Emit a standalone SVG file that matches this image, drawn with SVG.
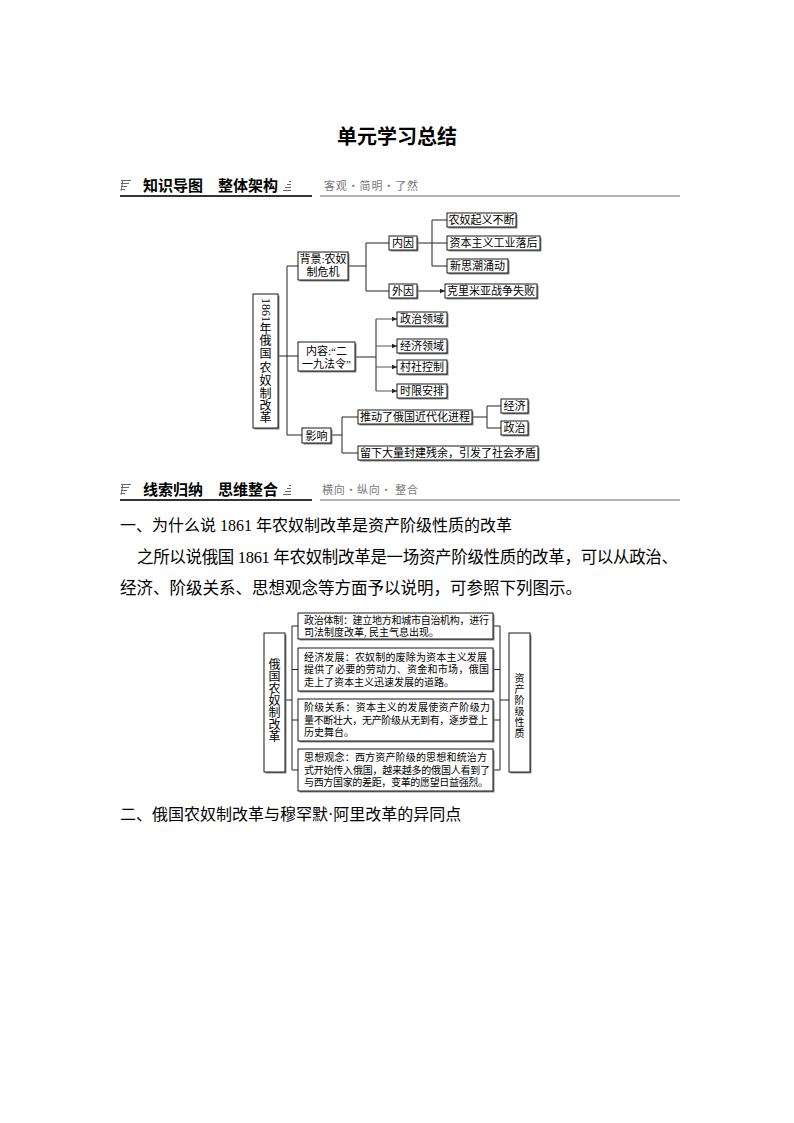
<svg xmlns="http://www.w3.org/2000/svg" width="794" height="1123" viewBox="0 0 794 1123">
<style>
.bg{fill:#fff}
.t{font-family:"Liberation Serif","Noto Sans CJK SC",serif;fill:#000}
.h{font-family:"Noto Sans CJK SC",sans-serif;font-weight:bold;fill:#000}
.g{font-family:"Noto Sans CJK SC",sans-serif;fill:#777;font-size:11px}
.box{fill:#fff;stroke:#000;stroke-width:0.9}
.sh{fill:#8a8a8a}
.c{fill:none;stroke:#222;stroke-width:1}
.cg{fill:none;stroke:#555;stroke-width:1}
.n{font-size:11px;text-anchor:middle}
.s{font-size:10px}
.ico{stroke:#666;stroke-width:1}
</style>
<defs>
<marker id="ar" markerUnits="userSpaceOnUse" markerWidth="6" markerHeight="6" refX="5" refY="3" orient="auto">
<path d="M0,0.8 L5,3 L0,5.2 Z" fill="#222"/>
</marker>
</defs>
<rect class="bg" x="0" y="0" width="794" height="1123"/>

<!-- Title -->
<text class="h" x="397" y="144" font-size="20" text-anchor="middle">单元学习总结</text>

<!-- Header 1 -->
<g id="header1">
<line class="ico" x1="121" y1="180.5" x2="131" y2="180.5"/>
<line class="ico" x1="121" y1="183.5" x2="129" y2="183.5"/>
<line class="ico" x1="121" y1="186.5" x2="127" y2="186.5"/>
<line class="ico" x1="121" y1="189.5" x2="125" y2="189.5"/>
<line class="ico" x1="123" y1="180" x2="121" y2="191"/>
<text class="h" x="143" y="190.5" font-size="15">知识导图</text>
<text class="h" x="218" y="190.5" font-size="15">整体架构</text>
<line class="ico" x1="289" y1="181.5" x2="291" y2="181.5"/>
<line class="ico" x1="287" y1="184.5" x2="291" y2="184.5"/>
<line class="ico" x1="285" y1="187.5" x2="291" y2="187.5"/>
<line class="ico" x1="283" y1="190.5" x2="291" y2="190.5"/>
<text class="g" x="324" y="190" textLength="94" lengthAdjust="spacing">客观・简明・了然</text>
<line x1="120" y1="196" x2="312" y2="196" stroke="#333" stroke-width="2"/>
<line x1="320" y1="196" x2="680" y2="196" stroke="#999" stroke-width="1.5"/>
</g>

<!-- Diagram 1 connectors -->
<g id="connectors1">
<path class="c" d="M278,356 H287 M287,266 V435 M287,266 H298 M287,356 H298 M287,435 H302"/>
<path class="c" d="M348,266 H366 M366,243 V291 M366,243 H389 M366,291 H389"/>
<path class="c" d="M417,243 H432 M432,220 V266 M432,220 H447 M432,243 H447 M432,266 H447"/>
<path class="c" d="M417,291 H445" marker-end="url(#ar)"/>
<path class="c" d="M355,357 H376 M376,319 V391"/>
<path class="cg" d="M376,319 H397" marker-end="url(#ar)"/>
<path class="cg" d="M376,346 H397" marker-end="url(#ar)"/>
<path class="cg" d="M376,367 H397" marker-end="url(#ar)"/>
<path class="cg" d="M376,391 H397" marker-end="url(#ar)"/>
<path class="c" d="M331,435 H342 M342,417 V453 M342,417 H358 M342,453 H358"/>
<path class="c" d="M472,417 H487 M487,406 V428 M487,406 H501 M487,428 H501"/>
</g>

<!-- Diagram 1 nodes -->
<g id="root">
<rect class="sh" x="254.5" y="295.5" width="25" height="134"/>
<rect class="box" x="253" y="294" width="25" height="134"/>
<text class="t" font-size="12" transform="translate(261.5,298) rotate(90)">1861</text>
<text class="t" font-size="12" text-anchor="middle" x="265.5" y="332.5">年</text>
<text class="t" font-size="12" text-anchor="middle" x="265.5" y="345">俄</text>
<text class="t" font-size="12" text-anchor="middle" x="265.5" y="358">国</text>
<text class="t" font-size="12" text-anchor="middle" x="265.5" y="371.5">农</text>
<text class="t" font-size="12" text-anchor="middle" x="265.5" y="384.5">奴</text>
<text class="t" font-size="12" text-anchor="middle" x="265.5" y="397.5">制</text>
<text class="t" font-size="12" text-anchor="middle" x="265.5" y="409.5">改</text>
<text class="t" font-size="12" text-anchor="middle" x="265.5" y="421.5">革</text>
</g>
<g id="beijing">
<rect class="sh" x="299.5" y="253.5" width="50" height="28"/>
<rect class="box" x="298" y="252" width="50" height="28"/>
<text class="t n" x="323" y="262.5">背景:农奴</text>
<text class="t n" x="323" y="276">制危机</text>
</g>
<g id="neirong">
<rect class="sh" x="299.5" y="343.5" width="57" height="29"/>
<rect class="box" x="298" y="342" width="57" height="29"/>
<text class="t n" x="326.5" y="355">内容:“二</text>
<text class="t n" x="326.5" y="367.5">一九法令”</text>
</g>
<g id="yingxiang">
<rect class="sh" x="303.5" y="429.5" width="29" height="15"/>
<rect class="box" x="302" y="428" width="29" height="15"/>
<text class="t n" x="316.5" y="439.5">影响</text>
</g>
<g id="neiyin">
<rect class="sh" x="390.5" y="237.5" width="28" height="14"/>
<rect class="box" x="389" y="236" width="28" height="14"/>
<text class="t n" x="403" y="247.3">内因</text>
</g>
<g id="waiyin">
<rect class="sh" x="390.5" y="285.5" width="28" height="14"/>
<rect class="box" x="389" y="284" width="28" height="14"/>
<text class="t n" x="403" y="295.3">外因</text>
</g>
<g id="n1">
<rect class="sh" x="448.5" y="214.5" width="69" height="14"/>
<rect class="box" x="447" y="213" width="69" height="14"/>
<text class="t n" x="481.5" y="224.3">农奴起义不断</text>
</g>
<g id="n2">
<rect class="sh" x="448.5" y="237.5" width="93" height="14"/>
<rect class="box" x="447" y="236" width="93" height="14"/>
<text class="t n" x="493.5" y="247.3">资本主义工业落后</text>
</g>
<g id="n3">
<rect class="sh" x="448.5" y="260.5" width="61" height="14"/>
<rect class="box" x="447" y="259" width="61" height="14"/>
<text class="t n" x="477.5" y="270.3">新思潮涌动</text>
</g>
<g id="n4">
<rect class="sh" x="446.5" y="285.5" width="92" height="14"/>
<rect class="box" x="445" y="284" width="92" height="14"/>
<text class="t n" x="491" y="295.3">克里米亚战争失败</text>
</g>
<g id="n5">
<rect class="sh" x="398.5" y="313.5" width="50" height="14"/>
<rect class="box" x="397" y="312" width="50" height="14"/>
<text class="t n" x="422" y="323.3">政治领域</text>
</g>
<g id="n6">
<rect class="sh" x="398.5" y="340.5" width="50" height="14"/>
<rect class="box" x="397" y="339" width="50" height="14"/>
<text class="t n" x="422" y="350.3">经济领域</text>
</g>
<g id="n7">
<rect class="sh" x="398.5" y="361.5" width="50" height="14"/>
<rect class="box" x="397" y="360" width="50" height="14"/>
<text class="t n" x="422" y="371.3">村社控制</text>
</g>
<g id="n8">
<rect class="sh" x="398.5" y="385.5" width="50" height="14"/>
<rect class="box" x="397" y="384" width="50" height="14"/>
<text class="t n" x="422" y="395.3">时限安排</text>
</g>
<g id="n9">
<rect class="sh" x="359.5" y="411.5" width="114" height="14"/>
<rect class="box" x="358" y="410" width="114" height="14"/>
<text class="t n" x="415" y="421.3">推动了俄国近代化进程</text>
</g>
<g id="n10">
<rect class="sh" x="359.5" y="447.5" width="180" height="14"/>
<rect class="box" x="358" y="446" width="180" height="14"/>
<text class="t n" x="448" y="457.3">留下大量封建残余，引发了社会矛盾</text>
</g>
<g id="n11">
<rect class="sh" x="502.5" y="400.5" width="27" height="14"/>
<rect class="box" x="501" y="399" width="27" height="14"/>
<text class="t n" x="514.5" y="410.3">经济</text>
</g>
<g id="n12">
<rect class="sh" x="502.5" y="422.5" width="27" height="14"/>
<rect class="box" x="501" y="421" width="27" height="14"/>
<text class="t n" x="514.5" y="432.3">政治</text>
</g>

<!-- Header 2 -->
<g id="header2">
<line class="ico" x1="121" y1="484.5" x2="131" y2="484.5"/>
<line class="ico" x1="121" y1="487.5" x2="129" y2="487.5"/>
<line class="ico" x1="121" y1="490.5" x2="127" y2="490.5"/>
<line class="ico" x1="121" y1="493.5" x2="125" y2="493.5"/>
<line class="ico" x1="123" y1="484" x2="121" y2="495"/>
<text class="h" x="143" y="494.5" font-size="15">线索归纳</text>
<text class="h" x="218" y="494.5" font-size="15">思维整合</text>
<line class="ico" x1="289" y1="485.5" x2="291" y2="485.5"/>
<line class="ico" x1="287" y1="488.5" x2="291" y2="488.5"/>
<line class="ico" x1="285" y1="491.5" x2="291" y2="491.5"/>
<line class="ico" x1="283" y1="494.5" x2="291" y2="494.5"/>
<text class="g" x="322" y="494" textLength="96" lengthAdjust="spacing">横向・纵向・ 整合</text>
<line x1="120" y1="500" x2="312" y2="500" stroke="#333" stroke-width="2"/>
<line x1="320" y1="500" x2="680" y2="500" stroke="#999" stroke-width="1.5"/>
</g>

<!-- Body text -->
<text class="t" x="120" y="531" font-size="16">一、为什么说 1861 年农奴制改革是资产阶级性质的改革</text>
<text class="t" x="137" y="563" font-size="16.5" textLength="541" lengthAdjust="spacing">之所以说俄国 1861 年农奴制改革是一场资产阶级性质的改革，可以从政治、</text>
<text class="t" x="120" y="594" font-size="16.5">经济、阶级关系、思想观念等方面予以说明，可参照下列图示。</text>

<!-- Diagram 2 connectors -->
<g id="connectors2">
<path class="c" d="M285,700 H292 M292,626 V770 M292,626 H298 M292,669.5 H298 M292,720 H298 M292,770 H298"/>
<path class="c" d="M493,626 H500 M493,669.5 H500 M493,720 H500 M493,770 H500 M500,626 V770 M500,700 H509"/>
</g>

<!-- Diagram 2 nodes -->
<g id="left2">
<rect class="sh" x="265.5" y="634.5" width="21" height="139"/>
<rect class="box" x="264" y="633" width="21" height="139"/>
<text class="t" font-size="12" text-anchor="middle" x="274.5" y="668.5">俄</text>
<text class="t" font-size="12" text-anchor="middle" x="274.5" y="680.5">国</text>
<text class="t" font-size="12" text-anchor="middle" x="274.5" y="692.5">农</text>
<text class="t" font-size="12" text-anchor="middle" x="274.5" y="704.5">奴</text>
<text class="t" font-size="12" text-anchor="middle" x="274.5" y="716.5">制</text>
<text class="t" font-size="12" text-anchor="middle" x="274.5" y="728.5">改</text>
<text class="t" font-size="12" text-anchor="middle" x="274.5" y="740.5">革</text>
</g>
<g id="right2">
<rect class="sh" x="510.5" y="634.5" width="21" height="139"/>
<rect class="box" x="509" y="633" width="21" height="139"/>
<text class="t" font-size="10" text-anchor="middle" x="519.5" y="681.8">资</text>
<text class="t" font-size="10" text-anchor="middle" x="519.5" y="692.8">产</text>
<text class="t" font-size="10" text-anchor="middle" x="519.5" y="703.8">阶</text>
<text class="t" font-size="10" text-anchor="middle" x="519.5" y="714.8">级</text>
<text class="t" font-size="10" text-anchor="middle" x="519.5" y="725.8">性</text>
<text class="t" font-size="10" text-anchor="middle" x="519.5" y="736.8">质</text>
</g>
<g id="b1">
<rect class="sh" x="299.5" y="614.5" width="195" height="26"/>
<rect class="box" x="298" y="613" width="195" height="26"/>
<text class="t s" x="304" y="623.8" textLength="185" lengthAdjust="spacing">政治体制：建立地方和城市自治机构，进行</text>
<text class="t s" x="304" y="635.8">司法制度改革, 民主气息出现。</text>
</g>
<g id="b2">
<rect class="sh" x="299.5" y="649.5" width="195" height="43"/>
<rect class="box" x="298" y="648" width="195" height="43"/>
<text class="t s" x="304" y="660.8" textLength="183" lengthAdjust="spacing">经济发展：农奴制的废除为资本主义发展</text>
<text class="t s" x="304" y="673.3" textLength="185" lengthAdjust="spacing">提供了必要的劳动力、资金和市场，俄国</text>
<text class="t s" x="304" y="685.8">走上了资本主义迅速发展的道路。</text>
</g>
<g id="b3">
<rect class="sh" x="299.5" y="700.5" width="195" height="42"/>
<rect class="box" x="298" y="699" width="195" height="42"/>
<text class="t s" x="304" y="711.3" textLength="186" lengthAdjust="spacing">阶级关系：资本主义的发展使资产阶级力</text>
<text class="t s" x="304" y="723.8" textLength="184" lengthAdjust="spacing">量不断壮大，无产阶级从无到有，逐步登上</text>
<text class="t s" x="304" y="736.3">历史舞台。</text>
</g>
<g id="b4">
<rect class="sh" x="299.5" y="750.5" width="195" height="42"/>
<rect class="box" x="298" y="749" width="195" height="42"/>
<text class="t s" x="304" y="761.3" textLength="183" lengthAdjust="spacing">思想观念：西方资产阶级的思想和统治方</text>
<text class="t s" x="304" y="773.8" textLength="186" lengthAdjust="spacing">式开始传入俄国，越来越多的俄国人看到了</text>
<text class="t s" x="304" y="786.3" textLength="184" lengthAdjust="spacing">与西方国家的差距，变革的愿望日益强烈。</text>
</g>

<text class="t" x="120" y="820" font-size="16">二、俄国农奴制改革与穆罕默·阿里改革的异同点</text>
</svg>
